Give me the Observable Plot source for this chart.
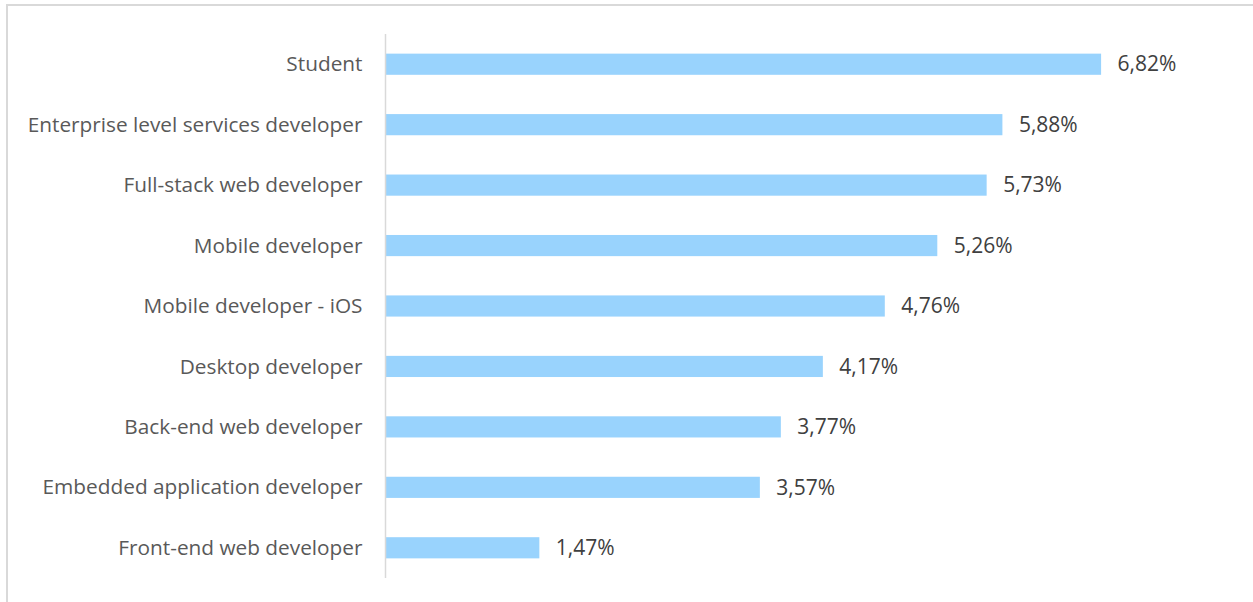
<!DOCTYPE html>
<html>
<head>
<meta charset="utf-8">
<script src="https://cdn.jsdelivr.net/npm/d3@7"></script>
<script src="https://cdn.jsdelivr.net/npm/@observablehq/plot@0.6"></script>
<style>
  html, body { margin: 0; padding: 0; background: #fff; overflow: hidden; }
  #frame { position: absolute; left: 6px; top: 4px; width: 1400px; height: 700px;
           border-left: 2px solid #d9d9d9; border-top: 2px solid #d9d9d9; }
  #chart { position: absolute; left: 0; top: 0; }
</style>
</head>
<body>
<div id="frame"></div>
<div id="chart"></div>
<script>
const categories = [
  "Student",
  "Enterprise level services developer",
  "Full-stack web developer",
  "Mobile developer",
  "Mobile developer - iOS",
  "Desktop developer",
  "Back-end web developer",
  "Embedded application developer",
  "Front-end web developer"
];
const values = [6.82, 5.88, 5.73, 5.26, 4.76, 4.17, 3.77, 3.57, 1.47];
const valueLabels = ["6,82%", "5,88%", "5,73%", "5,26%", "4,76%", "4,17%", "3,77%", "3,57%", "1,47%"];

const data = categories.map((c, i) => ({category: c, value: values[i], label: valueLabels[i]}));

const chart = Plot.plot({
  width: 1253,
  height: 602,
  marginLeft: 385,
  marginRight: 28,
  marginTop: 34,
  marginBottom: 24,
  style: {fontFamily: "'Open Sans', sans-serif", background: "transparent"},
  x: {domain: [0, 8], axis: null},
  y: {domain: categories, paddingInner: 0.65, paddingOuter: 0.325, round: false, label: null},
  marks: [
    Plot.barX(data, {x: "value", y: "category", fill: "#99d3fd"}),
    Plot.text(data, {x: "value", y: "category", text: "label", textAnchor: "start", dx: 16,
                     fill: "#404040", fontSize: 21}),
    Plot.axisY({tickSize: 0, tickPadding: 23, fontSize: 20.8, color: "#595959", label: null}),
    Plot.ruleX([0], {stroke: "#d9d9d9", strokeWidth: 1.5})
  ]
});
document.getElementById("chart").appendChild(chart);
</script>
</body>
</html>
